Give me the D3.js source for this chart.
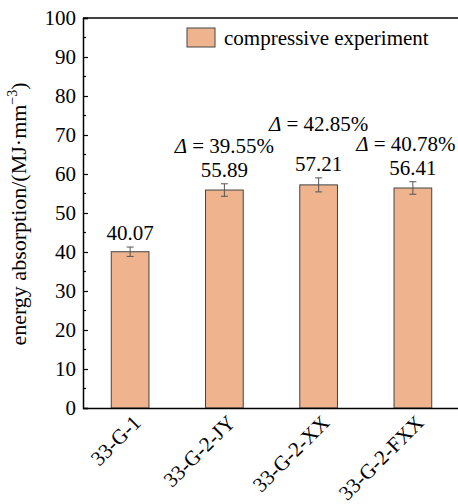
<!DOCTYPE html>
<html>
<head>
<meta charset="utf-8">
<script src="https://cdn.jsdelivr.net/npm/d3@7"></script>
<style>
  body { margin: 0; background: #fff; }
  svg text { font-family: "Liberation Serif", "Times New Roman", serif !important; }
</style>
</head>
<body>
<div id="chart"></div>
<script>
var categories = ["33-G-1", "33-G-2-JY", "33-G-2-XX", "33-G-2-FXX"];
var values = [40.07, 55.89, 57.21, 56.41];
var errors = [1.2, 1.6, 1.8, 1.6];
var deltaLabels = [null, "39.55%", "42.85%", "40.78%"];
var deltaOffsets = [0, 0, 16, 0];
var yTicks = [0, 10, 20, 30, 40, 50, 60, 70, 80, 90, 100];
var seriesName = "compressive experiment";

var svgWidth = 458;
var svgHeight = 504;
var plotLeft = 83, plotTop = 18, plotRight = 460, plotBottom = 408;
var barColor = "#efb48d";
var fontSize = 21;

var svg = d3.select("#chart")
    .append("svg")
        .attr("width", svgWidth)
        .attr("height", svgHeight);

var x = d3.scaleBand()
    .domain(categories)
    .range([plotLeft, plotRight])
    .paddingInner(0.6)
    .paddingOuter(0.3);

var y = d3.scaleLinear()
    .domain([0, 100])
    .range([plotBottom, plotTop]);

function cx(i) {
    return x(categories[i]) + x.bandwidth() / 2;
}

// bars
svg.selectAll("rect.bar")
    .data(values)
    .enter().append("rect")
    .classed("bar", true)
    .attr("x", (d, i) => x(categories[i]))
    .attr("y", d => y(d))
    .attr("width", x.bandwidth())
    .attr("height", d => y(0) - y(d))
    .attr("fill", barColor)
    .attr("stroke", "#444")
    .attr("stroke-width", 1);

// error bars
var eb = svg.selectAll("g.err")
    .data(values)
    .enter().append("g")
    .attr("stroke", "#555")
    .attr("stroke-width", 1);
eb.append("line")
    .attr("x1", (d, i) => cx(i))
    .attr("x2", (d, i) => cx(i))
    .attr("y1", (d, i) => y(d + errors[i]))
    .attr("y2", (d, i) => y(d - errors[i]));
[1, -1].forEach(function(s) {
    eb.append("line")
        .attr("x1", (d, i) => cx(i) - 3.5)
        .attr("x2", (d, i) => cx(i) + 3.5)
        .attr("y1", (d, i) => y(d + s * errors[i]))
        .attr("y2", (d, i) => y(d + s * errors[i]));
});

// value labels
svg.selectAll("text.val")
    .data(values)
    .enter().append("text")
    .attr("text-anchor", "middle")
    .attr("font-size", fontSize)
    .attr("x", (d, i) => cx(i))
    .attr("y", (d, i) => y(d + errors[i]) - 7)
    .text(d => d.toFixed(2));

// delta labels
var dl = svg.selectAll("text.delta")
    .data(deltaLabels)
    .enter().append("text")
    .attr("text-anchor", "middle")
    .attr("font-size", fontSize)
    .attr("x", (d, i) => cx(i) - (i == 3 ? 7 : 0))
    .attr("y", (d, i) => y(values[i] + errors[i]) - 31 - deltaOffsets[i]);
dl.filter(d => d !== null).append("tspan").attr("font-style", "italic").text("Δ");
dl.filter(d => d !== null).append("tspan").text(d => " = " + d);

// frame
svg.append("line").attr("x1", plotLeft).attr("x2", plotRight).attr("y1", plotTop).attr("y2", plotTop)
    .attr("stroke", "#000").attr("stroke-width", 1.5);

// y axis
var yAxis = d3.axisLeft(y).tickValues(yTicks).tickSize(-5).tickPadding(7);
var gy = svg.append("g").attr("transform", "translate(" + plotLeft + ",0)").call(yAxis);
gy.attr("font-size", fontSize).attr("font-family", null);
gy.select(".domain").attr("stroke-width", 1.5);
gy.selectAll("text").attr("fill", "#000");
gy.selectAll(".tick line").attr("stroke-width", 1.2);
var minor = d3.range(5, 100, 10);
gy.selectAll("line.minor")
    .data(minor)
    .enter().append("line")
    .attr("x1", 0).attr("x2", 3)
    .attr("y1", d => y(d)).attr("y2", d => y(d))
    .attr("stroke", "#000").attr("stroke-width", 1.2);

// x axis
var xAxis = d3.axisBottom(x).tickSize(0).tickFormat("");
var gx = svg.append("g").attr("transform", "translate(0," + plotBottom + ")").call(xAxis);
gx.select(".domain").attr("stroke-width", 1.5);
svg.selectAll("text.xlab")
    .data(categories)
    .enter().append("text")
    .attr("text-anchor", "end")
    .attr("font-size", fontSize)
    .attr("transform", (d, i) => "translate(" + (cx(i) + 12) + "," + (plotBottom + 16) + ") rotate(-45)")
    .text(d => d);

// y label
svg.append("text")
    .attr("text-anchor", "middle")
    .attr("font-size", 22)
    .attr("transform", "translate(26,214) rotate(-90)")
    .call(function(t) {
        t.append("tspan").text("energy absorption/(MJ·mm");
        t.append("tspan").attr("font-size", 14).attr("dy", -9).text("−3");
        t.append("tspan").attr("dy", 9).text(")");
    });

// legend
svg.append("rect")
    .attr("x", 187).attr("y", 28).attr("width", 28).attr("height", 19)
    .attr("fill", barColor).attr("stroke", "#444").attr("stroke-width", 1);
svg.append("text")
    .attr("x", 224).attr("y", 45)
    .attr("font-size", fontSize)
    .text(seriesName);
</script>
</body>
</html>
